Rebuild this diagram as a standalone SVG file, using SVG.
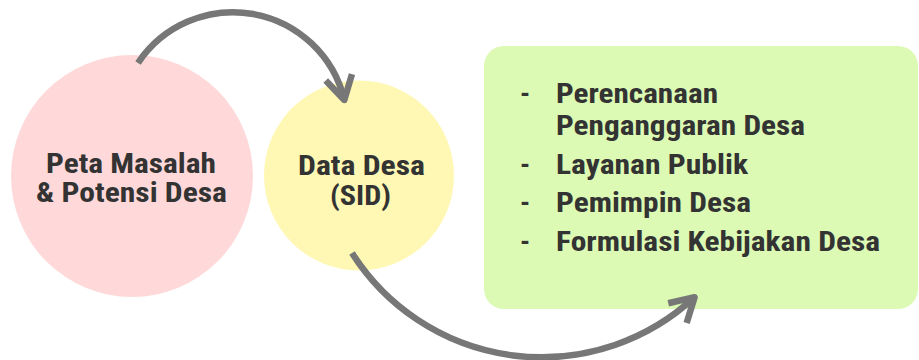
<svg xmlns="http://www.w3.org/2000/svg" width="919" height="360" viewBox="0 0 919 360">
  <style>
    .lbl { font-family: "Roboto Condensed", Roboto, "Liberation Sans", sans-serif; font-weight: 700; fill: #333333; }
    .big { font-size: 28.5px; }
    .item { font-size: 28px; }
    .conn { fill: none; stroke: #777777; stroke-width: 6.5; stroke-linecap: butt; }
  </style>
  <defs>
    <marker id="chev" markerUnits="userSpaceOnUse" markerWidth="60" markerHeight="60" viewBox="-30 -30 60 60" refX="0" refY="0" orient="auto" overflow="visible">
      <path d="M-23.4,-13.5 L0,0 L-23.4,13.5" fill="none" stroke="#777777" stroke-width="6.5" stroke-linejoin="round" stroke-linecap="butt"/>
    </marker>
  </defs>

  <g id="node-peta">
    <circle cx="132" cy="176" r="121" fill="#ffd9d9"/>
    <text class="lbl big" x="131" y="173" text-anchor="middle" textLength="170" lengthAdjust="spacingAndGlyphs">Peta Masalah</text>
    <text class="lbl big" x="131.5" y="202" text-anchor="middle" textLength="191" lengthAdjust="spacingAndGlyphs">&amp; Potensi Desa</text>
  </g>

  <g id="node-data">
    <circle cx="359" cy="175.5" r="95" fill="#fff8b4"/>
    <text class="lbl big" x="361.5" y="175" text-anchor="middle" textLength="127" lengthAdjust="spacingAndGlyphs">Data Desa</text>
    <text class="lbl big" x="360.5" y="205" text-anchor="middle" textLength="61" lengthAdjust="spacingAndGlyphs">(SID)</text>
  </g>

  <g id="node-output">
    <rect x="484" y="46" width="434" height="263" rx="20" ry="20" fill="#dcfab4"/>
    <text class="lbl item" x="520" y="103">-</text>
    <text class="lbl item" x="556" y="103" textLength="162" lengthAdjust="spacingAndGlyphs">Perencanaan</text>
    <text class="lbl item" x="556" y="135" textLength="249" lengthAdjust="spacingAndGlyphs">Penganggaran Desa</text>
    <text class="lbl item" x="520" y="174">-</text>
    <text class="lbl item" x="556" y="174" textLength="192" lengthAdjust="spacingAndGlyphs">Layanan Publik</text>
    <text class="lbl item" x="520" y="212">-</text>
    <text class="lbl item" x="556" y="212" textLength="195" lengthAdjust="spacingAndGlyphs">Pemimpin Desa</text>
    <text class="lbl item" x="520" y="251">-</text>
    <text class="lbl item" x="556" y="251" textLength="324" lengthAdjust="spacingAndGlyphs">Formulasi Kebijakan Desa</text>
  </g>

  <g id="connectors">
    <path class="conn" d="M138,63 A114.4,114.4 0 0 1 344.3,100" marker-end="url(#chev)"/>
    <path class="conn" d="M352,253 A224.7,224.7 0 0 0 694.6,297.2" marker-end="url(#chev)"/>
  </g>
</svg>
